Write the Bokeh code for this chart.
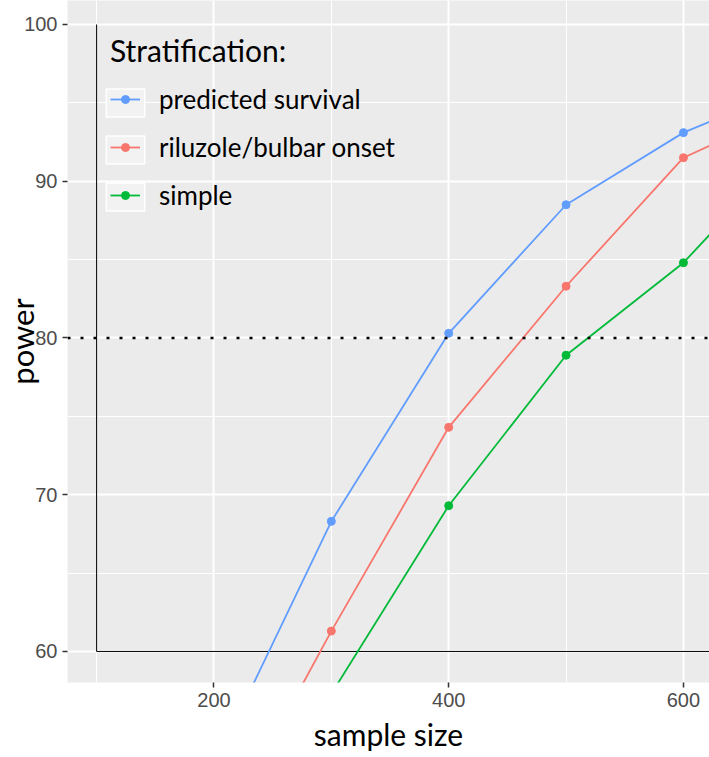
from bokeh.plotting import figure
from bokeh.models import Range1d, FixedTicker, Span, Legend, LegendItem
from bokeh.embed import file_html
from bokeh.resources import INLINE

# ---- data ----
sample_size = [200, 300, 400, 500, 600, 700]
power_predicted = [52.7, 68.3, 80.3, 88.5, 93.1, 96.2]
power_riluzole = [47.5, 61.3, 74.3, 83.3, 91.5, 94.9]
power_simple = [44.0, 57.3, 69.3, 78.9, 84.8, 92.8]
series_names = ["predicted survival", "riluzole/bulbar onset", "simple"]
series_values = [power_predicted, power_riluzole, power_simple]
series_colors = ["#619CFF", "#F8766D", "#00BA38"]

x_major = [200, 400, 600]
x_minor = [100, 300, 500]
y_major = [60, 70, 80, 90, 100]
y_minor = [65, 75, 85, 95]

target_power = 80
box_x = 100
box_bottom = 60
box_top = 100
box_right = 700

p = figure(width=709, height=757,
           x_range=Range1d(75.2, 622.2), y_range=Range1d(58.02, 101.53),
           output_backend="svg", toolbar_location=None,
           min_border_left=67, min_border_right=0, min_border_top=0, min_border_bottom=75,
           background_fill_color="#EBEBEB", border_fill_color="white",
           outline_line_color=None)

xt = FixedTicker(ticks=x_major, minor_ticks=x_minor)
yt = FixedTicker(ticks=y_major, minor_ticks=y_minor)
p.xaxis.ticker = xt
p.yaxis.ticker = yt
p.xgrid.ticker = xt
p.ygrid.ticker = yt

for g in (p.xgrid, p.ygrid):
    g.grid_line_color = "white"
    g.grid_line_width = 2
    g.minor_grid_line_color = "white"
    g.minor_grid_line_width = 1

for ax in (p.xaxis, p.yaxis):
    ax.axis_line_color = None
    ax.major_tick_line_color = "#333333"
    ax.major_tick_line_width = 1.5
    ax.major_tick_out = 5
    ax.major_tick_in = 0
    ax.minor_tick_out = 0
    ax.minor_tick_in = 0
    ax.major_label_text_font = "Liberation Sans"
    ax.major_label_text_font_size = "20px"
    ax.major_label_text_color = "#4D4D4D"
    ax.major_label_standoff = 5
    ax.axis_label_text_font = "Lato"
    ax.axis_label_text_font_style = "normal"
    ax.axis_label_text_color = "black"

p.xaxis.axis_label = "sample size"
p.xaxis.axis_label_text_font_size = "30px"
p.xaxis.axis_label_standoff = 6

p.yaxis.axis_label = "power"
p.yaxis.axis_label_text_font_size = "31px"
p.yaxis.axis_label_standoff = -20

# reference box lines
p.segment(x0=[box_x, box_x], y0=[box_bottom, box_bottom],
          x1=[box_x, box_right], y1=[box_top, box_bottom],
          line_color="black", line_width=1)

p.add_layout(Span(location=target_power, dimension="width", line_color="black",
                  line_width=2.5, line_dash="3 10"))

# legend key background (not drawn in the plot: NaN position)
key_bg = p.rect(x=[float("nan")], y=[float("nan")], width=1, height=1,
                fill_color="#F2F2F2", line_color="white", line_width=1.5)

box_items = []
items = []
for name, vals, col in zip(series_names, series_values, series_colors):
    ln = p.line(sample_size, vals, line_color=col, line_width=1.8)
    sc = p.scatter(sample_size, vals, size=8, fill_color=col, line_color=col)
    items.append(LegendItem(label=name, renderers=[ln, sc]))
    box_items.append(LegendItem(label=" ", renderers=[key_bg]))

legend_boxes = Legend(items=box_items, location=(34, 468),
                      label_text_font="Lato", label_text_font_size="26px",
                      glyph_width=48, glyph_height=35, label_standoff=0, spacing=12,
                      padding=0, margin=0,
                      background_fill_alpha=0, border_line_alpha=0)
p.add_layout(legend_boxes)

legend = Legend(items=items, location=(43, 471),
                title="Stratification:", title_text_font="Lato",
                title_text_font_size="30px", title_text_font_style="normal",
                title_text_color="black", title_standoff=15,
                label_text_font="Lato", label_text_font_size="26px",
                label_text_color="black",
                glyph_width=30, glyph_height=20, label_standoff=19, spacing=16,
                padding=0, margin=0,
                background_fill_alpha=0, border_line_alpha=0)
p.add_layout(legend)

open("out.html", "w").write(file_html(p, INLINE))
